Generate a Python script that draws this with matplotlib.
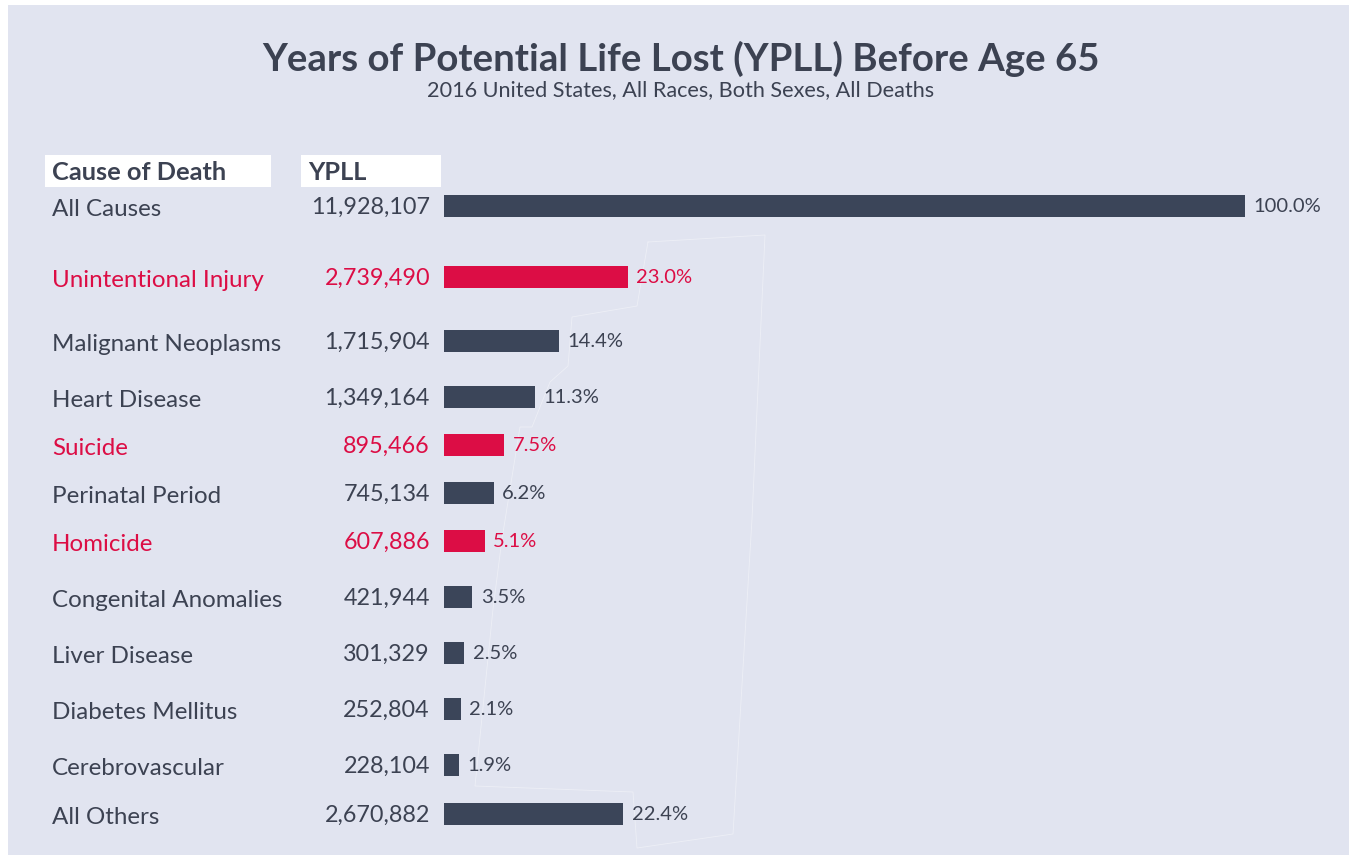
import matplotlib.pyplot as plt
from matplotlib.lines import Line2D
from matplotlib.patches import Rectangle
from matplotlib.transforms import blended_transform_factory

plt.rcParams['font.family'] = ['Lato', 'DejaVu Sans']

causes = ['All Causes', 'Unintentional Injury', 'Malignant Neoplasms', 'Heart Disease',
          'Suicide', 'Perinatal Period', 'Homicide', 'Congenital Anomalies',
          'Liver Disease', 'Diabetes Mellitus', 'Cerebrovascular', 'All Others']
ypll = [11928107, 2739490, 1715904, 1349164, 895466, 745134, 607886,
        421944, 301329, 252804, 228104, 2670882]
highlight = [False, True, False, False, True, False, True,
             False, False, False, False, False]

# layout (pixel rows of the original)
W, H = 1353, 862
row_y = [207, 278, 342, 398, 446, 494, 542, 598, 654, 710, 766, 815]
NAVY = '#3b4559'
RED = '#dc0d45'
TEXT = '#3c4252'
BG = '#e1e4f0'

fig = plt.figure(figsize=(W / 100, H / 100), dpi=100, facecolor='white')
fig.patches.append(Rectangle((8 / W, 6 / H), (W - 12) / W, (H - 12) / H,
                             transform=fig.transFigure, facecolor=BG,
                             edgecolor='none', zorder=-2))

# faint hand-drawn outline behind the small bars
outline_x = [648, 765, 752, 733, 637, 633, 475, 493, 502, 520, 532, 550, 568, 572, 637, 648]
outline_y = [243, 236, 520, 835, 849, 793, 787, 610, 540, 428, 428, 383, 367, 318, 307, 243]
fig.lines.append(Line2D([x / W for x in outline_x], [1 - y / H for y in outline_y],
                        transform=fig.transFigure, color='white', lw=0.6,
                        alpha=0.4, zorder=-1))

x0, x1 = 444, 1245
ax = fig.add_axes([x0 / W, 0, (W - x0) / W, 1])
ax.set_xlim(0, ypll[0] * (W - x0) / (x1 - x0))
ax.set_ylim(H, 0)
ax.axis('off')
ax.patch.set_alpha(0)
ax.set_zorder(2)

total = ypll[0]
colors = [RED if h else NAVY for h in highlight]
ax.barh(row_y, ypll, height=22, color=colors, zorder=2)

fig_px = blended_transform_factory(fig.transFigure, ax.transData)
for name, val, y, h in zip(causes, ypll, row_y, highlight):
    c = RED if h else TEXT
    fig.text(52 / W, 0, name, transform=fig_px, fontsize=17.4, color=c,
             ha='left', va='center').set_y(y + 3)
    fig.text(430 / W, 0, f'{val:,}', transform=fig_px, fontsize=16.8, color=c,
             ha='right', va='center').set_y(y)
    ax.annotate(f'{val / total * 100:.1f}%', (val, y), xytext=(6, 0),
                textcoords='offset points', fontsize=14.5, color=c,
                ha='left', va='center')

# header boxes
for (bx, bw, label) in [(45, 226, 'Cause of Death'), (301, 140, 'YPLL')]:
    fig.patches.append(Rectangle((bx / W, 1 - 188 / H), bw / W, 32 / H,
                                 transform=fig.transFigure, facecolor='white',
                                 edgecolor='none', zorder=-1))
    fig.text((bx + 7) / W, 1 - 173 / H, label, fontsize=18.3, fontweight='bold',
             color=TEXT, ha='left', va='center', zorder=3)

fig.text(681 / W, 1 - 59 / H, 'Years of Potential Life Lost (YPLL) Before Age 65',
         fontsize=27.6, fontweight='bold', color=TEXT, ha='center', va='center')
fig.text(681 / W, 1 - 90 / H, '2016 United States, All Races, Both Sexes, All Deaths',
         fontsize=15.6, color=TEXT, ha='center', va='center')

fig.savefig('out.png', dpi=100, facecolor=fig.get_facecolor())
